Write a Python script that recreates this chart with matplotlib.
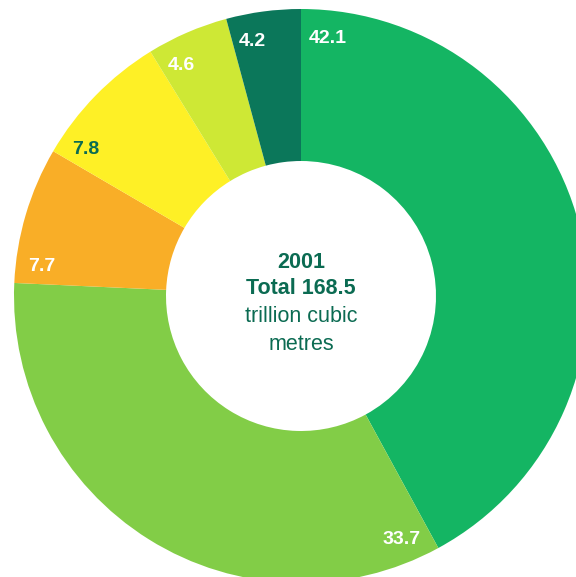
import numpy as np
import matplotlib.pyplot as plt

plt.rcParams['font.family'] = ['Liberation Sans', 'DejaVu Sans']

# share of world gas reserves, 2001 (%), clockwise from 12 o'clock
shares = [42.1, 33.7, 7.7, 7.8, 4.6, 4.2]
labels = ['42.1', '33.7', '7.7', '7.8', '4.6', '4.2']
colors = ['#14b563', '#82cd47', '#f9ae27', '#fef026', '#cee835', '#0b775a']
label_colors = ['white', 'white', 'white', '#0b6b52', 'white', 'white']
centre_lines = ['2001', 'Total 168.5', 'trillion cubic', 'metres']

dark = '#0b6b52'
R = 287        # outer radius in pixels
r_in = 135     # hole radius

fig = plt.figure(figsize=(5.76, 5.77), dpi=100)
ax = fig.add_axes([0, 0, 1, 1])

ax.pie(shares, colors=colors, startangle=90, counterclock=False,
       radius=R, wedgeprops=dict(width=R - r_in, linewidth=0))

# pie() resets the limits, so set them afterwards (1 unit = 1 pixel)
ax.set_xlim(-301, 275)
ax.set_ylim(-281, 296)
ax.set_aspect('auto')
ax.set_axis_off()

# value labels sit just after the leading edge of each wedge,
# longer labels pushed a little further round
start = 90.0
for val, lab, col in zip(shares, labels, label_colors):
    delta = 4.0 if len(lab) == 3 else 5.9
    a = np.deg2rad(start - delta)
    rr = 0.91 * R
    ax.text(rr * np.cos(a), rr * np.sin(a), lab, color=col, fontsize=14,
            fontweight='bold', ha='center', va='center_baseline')
    start -= val * 3.6

ys = [36, 10, -18, -46]
for i, (txt, y) in enumerate(zip(centre_lines, ys)):
    ax.text(0, y, txt, color=dark, fontsize=15.5, ha='center',
            va='center_baseline', fontweight='bold' if i < 2 else 'normal')

fig.savefig('out.png', dpi=100)
